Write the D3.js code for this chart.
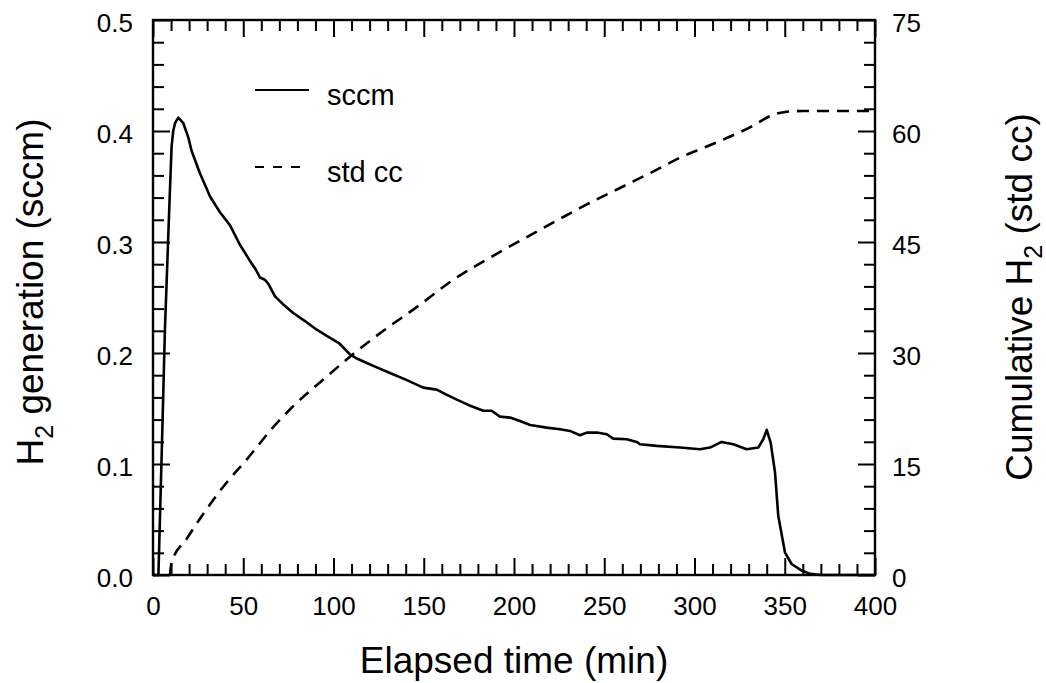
<!DOCTYPE html>
<html>
<head>
<meta charset="utf-8">
<script src="https://cdn.jsdelivr.net/npm/d3@7"></script>
<style>
  body { margin: 0; background: #fff; }
  svg { display: block; font-family: "Liberation Sans", Arial, Helvetica, sans-serif; }
</style>
</head>
<body>
<script>
// H2 generation rate (sccm) vs elapsed time (min)
const sccmTime = [0, 3, 5, 6.6, 7.6, 9, 10.3, 11.2, 12.2, 14, 16.8, 19.6, 21.4, 26, 31.6, 37, 42.7, 48, 53.7, 57, 59.3, 62, 64, 67.6, 72, 77.7, 84, 90.7, 98.1, 103, 109.1, 113, 118.4, 124, 131.3, 140, 149.7, 157.2, 162, 168.3, 175, 183, 187.6, 192.2, 197.8, 203.3, 208.9, 218.1, 225.5, 231, 236.6, 240.3, 245.8, 251.4, 255, 262.4, 268, 269.8, 279.1, 292, 303, 308.6, 315, 321.5, 328.9, 335.3, 338.1, 340, 342.2, 344.6, 346.4, 350.1, 353.8, 359.4, 364, 370, 400];
const sccmValues = [0, 0, 0.12, 0.221, 0.266, 0.33, 0.386, 0.4, 0.407, 0.412, 0.407, 0.394, 0.382, 0.362, 0.341, 0.327, 0.315, 0.298, 0.283, 0.275, 0.268, 0.266, 0.262, 0.251, 0.244, 0.236, 0.229, 0.221, 0.2137, 0.209, 0.1987, 0.195, 0.191, 0.187, 0.182, 0.176, 0.1688, 0.167, 0.163, 0.158, 0.153, 0.148, 0.148, 0.1427, 0.1418, 0.1388, 0.1352, 0.1328, 0.1313, 0.1298, 0.1259, 0.1283, 0.1283, 0.1268, 0.1229, 0.1223, 0.1199, 0.1178, 0.1163, 0.1148, 0.1133, 0.1148, 0.1199, 0.1178, 0.1133, 0.1148, 0.1223, 0.1307, 0.1193, 0.0924, 0.0533, 0.0204, 0.0099, 0.004, 0.001, 0, 0];

// cumulative H2 (std cc)
const cumTime = [9.4, 10.3, 18.7, 26, 40.8, 51.9, 66, 76, 96.2, 109.1, 127.6, 146.1, 166.4, 190.4, 212.6, 236.6, 258.7, 275.3, 293.8, 306.8, 330.7, 343.7, 351.1, 360, 400];
const cumValues = [0, 1.7, 4.9, 7.6, 12.5, 15.6, 19.8, 22.4, 26.8, 29.5, 33.0, 36.2, 39.9, 43.4, 46.4, 49.6, 52.3, 54.3, 56.6, 57.9, 60.5, 62.2, 62.6, 62.7, 62.7];

const xTicks = [0, 50, 100, 150, 200, 250, 300, 350, 400];
const leftTicks = [0, 0.1, 0.2, 0.3, 0.4, 0.5];
const rightTicks = [0, 15, 30, 45, 60, 75];
const legendLabels = ["sccm", "std cc"];

let margin = { top: 20, right: 171, bottom: 108, left: 153 },
  width = 1046 - margin.left - margin.right,
  height = 683 - margin.top - margin.bottom;

let x = d3.scaleLinear().domain([0, 400]).range([0, width]);
let yL = d3.scaleLinear().domain([0, 0.5]).range([height, 0]);
let yR = d3.scaleLinear().domain([0, 75]).range([height, 0]);

let svg = d3.select("body").append("svg")
  .attr("width", width + margin.left + margin.right)
  .attr("height", height + margin.top + margin.bottom)
  .append("g")
  .attr("transform", "translate(" + margin.left + "," + margin.top + ")");

const major = 17, minor = 11;

// minor ticks (no labels), pointing inward
const xMinor = d3.range(0, 401, 10).filter(d => d % 50 !== 0);
const lMinor = d3.range(0, 26).map(i => i * 0.02).filter((d, i) => i % 5 !== 0);
const rMinor = d3.range(0, 76, 3).filter(d => d % 15 !== 0);

function styleAxis(g) {
  g.select(".domain").remove();
  g.selectAll("line").attr("stroke", "#000").attr("stroke-width", 2);
  g.selectAll("text").attr("fill", "#000").attr("font-size", 26);
}

svg.append("g").attr("transform", "translate(0," + height + ")")
  .call(d3.axisBottom(x).tickValues(xMinor).tickSize(-minor).tickFormat("")).call(styleAxis);
svg.append("g").attr("transform", "translate(0," + height + ")")
  .call(d3.axisBottom(x).tickValues(xTicks).tickSize(-major).tickPadding(22).tickFormat(d3.format("d"))).call(styleAxis);

svg.append("g")
  .call(d3.axisTop(x).tickValues(xMinor).tickSize(-minor).tickFormat("")).call(styleAxis);
svg.append("g")
  .call(d3.axisTop(x).tickValues(xTicks).tickSize(-major).tickFormat("")).call(styleAxis);

svg.append("g")
  .call(d3.axisLeft(yL).tickValues(lMinor).tickSize(-minor).tickFormat("")).call(styleAxis);
svg.append("g")
  .call(d3.axisLeft(yL).tickValues(leftTicks).tickSize(-major).tickPadding(20).tickFormat(d3.format(".1f")))
  .call(styleAxis)
  .call(g => g.selectAll("text").attr("dy", "0.45em"));

svg.append("g").attr("transform", "translate(" + width + ",0)")
  .call(d3.axisRight(yR).tickValues(rMinor).tickSize(-minor).tickFormat("")).call(styleAxis);
svg.append("g").attr("transform", "translate(" + width + ",0)")
  .call(d3.axisRight(yR).tickValues(rightTicks).tickSize(-major).tickPadding(17).tickFormat(d3.format("d")))
  .call(styleAxis)
  .call(g => g.selectAll("text").attr("dy", "0.45em"));

// frame
svg.append("rect").attr("width", width).attr("height", height)
  .attr("fill", "none").attr("stroke", "#000").attr("stroke-width", 2.4);

// lines
const sccmData = sccmTime.map((t, i) => ({ t: t, v: sccmValues[i] }));
const cumData = cumTime.map((t, i) => ({ t: t, v: cumValues[i] }));

svg.append("path").datum(sccmData)
  .attr("fill", "none").attr("stroke", "#000").attr("stroke-width", 2.6)
  .attr("stroke-linejoin", "round")
  .attr("d", d3.line().x(d => x(d.t)).y(d => yL(d.v)));

svg.append("path").datum(cumData)
  .attr("fill", "none").attr("stroke", "#000").attr("stroke-width", 2.6)
  .attr("stroke-dasharray", "12,8")
  .attr("d", d3.line().curve(d3.curveMonotoneX).x(d => x(d.t)).y(d => yR(d.v)));

// legend
const legend = svg.append("g").attr("transform", "translate(102,70)");
legendLabels.forEach((lab, i) => {
  legend.append("line").attr("x1", 0).attr("x2", 54).attr("y1", i * 77).attr("y2", i * 77)
    .attr("stroke", "#000").attr("stroke-width", 2)
    .attr("stroke-dasharray", i === 1 ? "9,9" : null);
  legend.append("text").attr("x", 72).attr("y", i * 77 + 15)
    .attr("font-size", 29).text(lab);
});

// axis titles
svg.append("text").attr("x", width / 2).attr("y", height + 98)
  .attr("text-anchor", "middle").attr("font-size", 37).text("Elapsed time (min)");

const lt = svg.append("text")
  .attr("transform", "translate(" + (43 - margin.left) + "," + 272 + ") rotate(-90)")
  .attr("text-anchor", "middle").attr("font-size", 37);
lt.append("tspan").text("H");
lt.append("tspan").attr("font-size", 25).attr("dy", 10).text("2");
lt.append("tspan").attr("dy", -10).text(" generation (sccm)");

const rt = svg.append("text")
  .attr("transform", "translate(" + (width + 157) + "," + 277 + ") rotate(-90)")
  .attr("text-anchor", "middle").attr("font-size", 37);
rt.append("tspan").text("Cumulative H");
rt.append("tspan").attr("font-size", 25).attr("dy", 10).text("2");
rt.append("tspan").attr("dy", -10).text(" (std cc)");
</script>
</body>
</html>
